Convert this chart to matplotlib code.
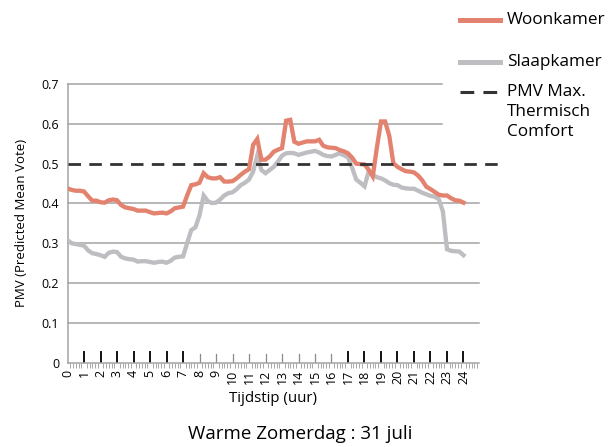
import numpy as np
import matplotlib.pyplot as plt
from matplotlib.lines import Line2D

plt.rcParams['font.family'] = ['Open Sans', 'DejaVu Sans']

# kwartierwaarden 0:00 .. 24:00
uren = np.arange(0, 24.01, 0.25)

woonkamer = [
    0.438, 0.434, 0.432, 0.432, 0.430, 0.418, 0.407, 0.407, 0.403, 0.402,
    0.408, 0.410, 0.408, 0.396, 0.390, 0.388, 0.386, 0.382, 0.382, 0.382,
    0.378, 0.375, 0.376, 0.377, 0.375, 0.380, 0.388, 0.390, 0.392, 0.420,
    0.446, 0.448, 0.452, 0.476, 0.466, 0.463, 0.463, 0.466, 0.455, 0.455,
    0.456, 0.463, 0.472, 0.480, 0.486, 0.547, 0.562, 0.510, 0.510, 0.518,
    0.530, 0.535, 0.539, 0.608, 0.610, 0.555, 0.550, 0.553, 0.556, 0.556,
    0.556, 0.560, 0.545, 0.541, 0.540, 0.539, 0.534, 0.531, 0.526, 0.515,
    0.500, 0.499, 0.498, 0.485, 0.468, 0.540, 0.606, 0.606, 0.570, 0.501,
    0.492, 0.486, 0.481, 0.480, 0.478, 0.470, 0.458, 0.442, 0.436, 0.429,
    0.422, 0.420, 0.420, 0.413, 0.408, 0.407, 0.402,
]

slaapkamer = [
    0.308, 0.300, 0.298, 0.296, 0.294, 0.282, 0.275, 0.273, 0.270, 0.266,
    0.276, 0.279, 0.278, 0.266, 0.262, 0.260, 0.259, 0.254, 0.255, 0.255,
    0.253, 0.251, 0.253, 0.254, 0.251, 0.256, 0.264, 0.266, 0.267, 0.300,
    0.333, 0.340, 0.370, 0.420, 0.406, 0.401, 0.402, 0.410, 0.420, 0.426,
    0.428, 0.436, 0.446, 0.452, 0.460, 0.480, 0.520, 0.484, 0.476, 0.484,
    0.492, 0.505, 0.520, 0.526, 0.527, 0.526, 0.522, 0.525, 0.528, 0.530,
    0.532, 0.528, 0.522, 0.519, 0.518, 0.522, 0.526, 0.521, 0.516, 0.490,
    0.460, 0.452, 0.443, 0.480, 0.472, 0.466, 0.463, 0.458, 0.451, 0.447,
    0.446, 0.440, 0.438, 0.437, 0.437, 0.432, 0.427, 0.423, 0.419, 0.417,
    0.411, 0.380, 0.285, 0.281, 0.280, 0.279, 0.270,
]

pmv_max = 0.5
y_ticks = [0, 0.1, 0.2, 0.3, 0.4, 0.5, 0.6, 0.7]
y_labels = ['0', '0.1', '0.2', '0.3', '0.4', '0.5', '0.6', '0.7']
x_ticks = list(range(25))
legenda_pmv = ['PMV Max.', 'Thermisch', 'Comfort']

kleur_woon = '#E3826E'
kleur_slaap = '#BEBEC2'
kleur_grid = '#A3A3A3'

fig = plt.figure(figsize=(6.16, 4.47), dpi=100)
ax = fig.add_axes([0.1096, 0.1886, 0.668, 0.6234])
ax.set_xlim(0, 24.94)
ax.set_ylim(0, 0.7)

# rasterlijnen (boven 0.5 afgedekt door legenda)
for y in y_ticks[1:]:
    if y == pmv_max:
        continue
    xmax = 22.7 if y > pmv_max else 24.94
    ax.plot([0, xmax], [y, y], color=kleur_grid, lw=1.1, zorder=1, clip_on=False)

ax.plot(uren, slaapkamer, color=kleur_slaap, lw=3.1, solid_joinstyle='miter', zorder=3)
ax.plot(uren, woonkamer, color=kleur_woon, lw=3.1, solid_joinstyle='miter', zorder=4)
ax.plot([0, 26.2], [pmv_max, pmv_max], color='#333333', lw=2,
        dashes=(4.5, 3), zorder=5, clip_on=False)

# uurstreepjes boven de as
for h in x_ticks[1:]:
    if 8 <= h <= 16:
        ax.plot([h, h], [0, 0.021], color='#8A8A8A', lw=0.9, zorder=2)
    else:
        ax.plot([h, h], [0, 0.028], color='#111111', lw=1.4, zorder=2)

ax.set_xticks(x_ticks)
ax.set_xticklabels([str(h) for h in x_ticks], rotation=90, fontsize=9)
ax.set_xticks(np.arange(0, 24.94, 1 / 6), minor=True)
ax.tick_params(axis='x', which='major', length=0, pad=5)
ax.tick_params(axis='x', which='minor', length=3.5, width=0.6,
               color='#9A9A9A', direction='out')
ax.set_yticks(y_ticks)
ax.set_yticklabels(y_labels, fontsize=9)
ax.tick_params(axis='y', length=0, pad=6)

for s in ['top', 'right']:
    ax.spines[s].set_visible(False)
for s in ['left', 'bottom']:
    ax.spines[s].set_color(kleur_grid)
    ax.spines[s].set_linewidth(1.1)

ax.set_xlabel('Tijdstip (uur)', fontsize=10.8, labelpad=5)
ax.set_ylabel('PMV (Predicted Mean Vote)', fontsize=9.5, labelpad=10)
fig.text(0.487, 0.008, 'Warme Zomerdag : 31 juli', ha='center', va='bottom', fontsize=13.5)

# legenda
def fy(py):
    return 1 - py / 447

def fx(px):
    return px / 616

fig.add_artist(Line2D([fx(460), fx(500)], [fy(20), fy(20)], color=kleur_woon, lw=3.6))
fig.add_artist(Line2D([fx(460), fx(500)], [fy(62), fy(62)], color=kleur_slaap, lw=3.6))
fig.add_artist(Line2D([fx(460), fx(500)], [fy(92), fy(92)], color='#333333', lw=2.2,
                      dashes=(4.5, 3)))
fig.text(fx(507), fy(20), 'Woonkamer', va='center', fontsize=12.3)
fig.text(fx(507), fy(62), 'Slaapkamer', va='center', fontsize=12.3)
for i, regel in enumerate(legenda_pmv):
    fig.text(fx(507), fy(92 + 20 * i), regel, va='center', fontsize=12.3)

fig.savefig('out.png', dpi=100)
